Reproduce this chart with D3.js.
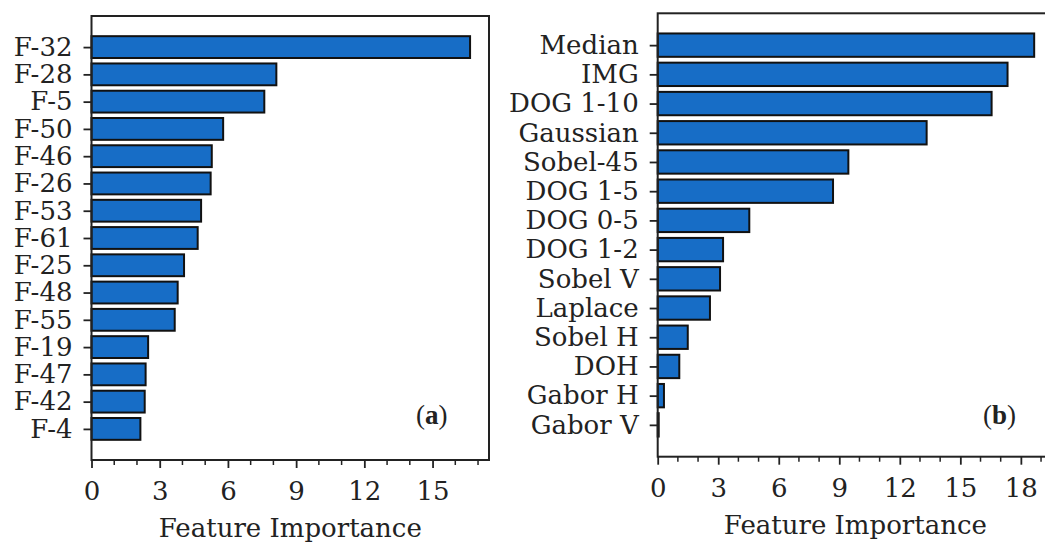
<!DOCTYPE html>
<html>
<head>
<meta charset="utf-8">
<script src="https://cdn.jsdelivr.net/npm/d3@7"></script>
<style>
html,body{margin:0;padding:0;background:#fff;overflow:hidden;}
svg{display:block;}
text{font-family:"DejaVu Serif",serif;fill:#222;}
</style>
</head>
<body>
<svg id="chart" width="1045" height="543"></svg>
<script>
// Panel (a)
const catsA = ["F-32","F-28","F-5","F-50","F-46","F-26","F-53","F-61","F-25","F-48","F-55","F-19","F-47","F-42","F-4"];
const valsA = [16.65,8.13,7.60,5.79,5.29,5.24,4.82,4.67,4.07,3.79,3.66,2.49,2.38,2.34,2.15];
const ticksA = [0,3,6,9,12,15];
// Panel (b)
const catsB = ["Median","IMG","DOG 1-10","Gaussian","Sobel-45","DOG 1-5","DOG 0-5","DOG 1-2","Sobel V","Laplace","Sobel H","DOH","Gabor H","Gabor V"];
const valsB = [18.66,17.34,16.55,13.33,9.45,8.69,4.54,3.24,3.09,2.59,1.49,1.07,0.31,0.05];
const ticksB = [0,3,6,9,12,15,18];

const xLabel = "Feature Importance";
const barColor = "#176dc6";
const svg = d3.select("#chart");

function panel(cfg){
  const {cats, vals, ticks, left, right, top, bottom, tag, tagX, tagY} = cfg;
  const n = cats.length;
  const vmax = d3.max(vals);
  const x = d3.scaleLinear().domain([0, vmax*1.05]).range([left, right]);
  const m = 0.05*(n-1+0.8);
  const y = d3.scaleLinear().domain([-0.4-m, n-1+0.4+m]).range([top, bottom]);
  const bh = y(0.8)-y(0);
  const g = svg.append("g");

  g.selectAll("rect.bar").data(vals).join("rect")
    .attr("class","bar")
    .attr("x", x(0))
    .attr("y", (d,i)=>y(i)-bh/2)
    .attr("width", d=>x(d)-x(0))
    .attr("height", bh)
    .attr("fill", barColor)
    .attr("stroke","#111")
    .attr("stroke-width",2);

  g.append("rect").attr("x",left).attr("y",top).attr("width",right-left).attr("height",bottom-top)
    .attr("fill","none").attr("stroke","#222").attr("stroke-width",2);

  const yAx = d3.axisLeft(y).tickValues(d3.range(n)).tickFormat(i=>cats[i]).tickSize(8).tickPadding(11);
  const ya = g.append("g").attr("transform",`translate(${left},0)`).call(yAx);
  ya.select(".domain").remove();
  ya.selectAll("line").attr("stroke","#222").attr("stroke-width",1.8);
  ya.selectAll("text").style("font-size","26px").attr("fill","#222");

  const minor = d3.range(0, Math.floor(vmax*1.05)+1).filter(v=>v%3!==0);
  g.append("g").selectAll("line").data(minor).join("line")
    .attr("x1",d=>x(d)).attr("x2",d=>x(d)).attr("y1",bottom).attr("y2",bottom+5)
    .attr("stroke","#222").attr("stroke-width",1.5);

  const xAx = d3.axisBottom(x).tickValues(ticks).tickFormat(d3.format("d")).tickSize(8).tickPadding(14);
  const xa = g.append("g").attr("transform",`translate(0,${bottom})`).call(xAx);
  xa.select(".domain").remove();
  xa.selectAll("line").attr("stroke","#222").attr("stroke-width",1.8);
  xa.selectAll("text").style("font-size","26px").attr("fill","#222");

  g.append("text").attr("x",(left+right)/2).attr("y",bottom+77)
    .attr("text-anchor","middle").style("font-size","26px").text(xLabel);

  const t = g.append("text").attr("x",tagX).attr("y",tagY)
    .style("font-family","'Liberation Serif',serif").style("font-size","27px").attr("fill","#111");
  t.append("tspan").text("(");
  t.append("tspan").style("font-weight","bold").text(tag);
  t.append("tspan").text(")");
}

panel({cats:catsA, vals:valsA, ticks:ticksA, left:91.5, right:489, top:16, bottom:460,
  tag:"a", tagX:416, tagY:424});
panel({cats:catsB, vals:valsB, ticks:ticksB, left:657.7, right:1053, top:13.3, bottom:456.7,
  tag:"b", tagX:983, tagY:424});
</script>
</body>
</html>
